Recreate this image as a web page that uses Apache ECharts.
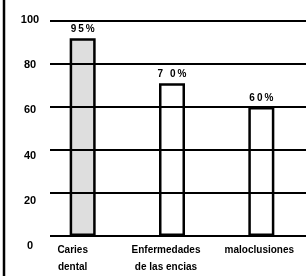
<!DOCTYPE html>
<html>
<head>
<meta charset="utf-8">
<script src="https://cdn.jsdelivr.net/npm/echarts@6/dist/echarts.min.js"></script>
<style>
  html, body { margin: 0; padding: 0; background: #fff; }
  #chart { width: 306px; height: 276px; }
</style>
</head>
<body>
<div id="chart"></div>
<script>
var categories = ['Caries\ndental', 'Enfermedades\nde las encias', 'maloclusiones'];
var values = [92, 71, 60];
var valueLabels = ['95%', '7 0%', '60%'];
var barColors = ['rgba(0,0,0,0.13)', 'rgba(255,255,255,0)', 'rgba(255,255,255,0)'];
var yTicks = [0, 20, 40, 60, 80, 100];

var myChart = echarts.init(document.getElementById('chart'));

var font = 'Liberation Sans';

option = {
    animation: false,
    backgroundColor: '#fff',
    grid: [
        // grid lines
        { left: 50, right: 0, top: 21, height: 215 },
        // tick labels and category labels
        { left: 26, right: 0, top: 20, height: 231 },
        // bars
        { left: 38, right: 0, top: 21, height: 215 }
    ],
    xAxis: [
        { gridIndex: 0, type: 'category', data: categories, show: false },
        {
            gridIndex: 1, type: 'category', data: categories,
            axisLine: { show: false }, axisTick: { show: false },
            axisLabel: {
                margin: -4, color: '#000', fontFamily: font, fontWeight: 'bold',
                fontSize: 10, lineHeight: 17, interval: 0
            }
        },
        { gridIndex: 2, type: 'category', data: categories, show: false }
    ],
    yAxis: [
        {
            gridIndex: 0, type: 'value', min: 0, max: 100, interval: 20, z: 5,
            axisLine: { show: false }, axisTick: { show: false }, axisLabel: { show: false },
            splitLine: { show: true, lineStyle: { color: '#000', width: 2 } }
        },
        {
            gridIndex: 1, type: 'value', min: yTicks[0], max: yTicks[yTicks.length - 1], interval: 20,
            axisLine: { show: false }, axisTick: { show: false }, splitLine: { show: false },
            axisLabel: {
                margin: -4, align: 'center', color: '#000', fontFamily: font,
                fontWeight: 'bold', fontSize: 11
            }
        },
        {
            gridIndex: 2, type: 'value', min: 0, max: 100, show: false,
            splitLine: { show: false }
        }
    ],
    graphic: [
        {
            type: 'line',
            shape: { x1: 4, y1: 0, x2: 4, y2: 276 },
            style: { stroke: '#000', lineWidth: 2.5 }
        }
    ],
    series: [
        {
            type: 'bar',
            xAxisIndex: 2,
            yAxisIndex: 2,
            barWidth: 26,
            z: 2,
            data: values.map(function (v, i) {
                return {
                    value: v,
                    itemStyle: { color: barColors[i] }
                };
            }),
            itemStyle: { borderColor: '#000', borderWidth: 2.5 },
            label: {
                show: true,
                position: 'top',
                distance: 4,
                color: '#000',
                fontFamily: font,
                fontWeight: 'bold',
                fontSize: 10,
                formatter: function (p) {
                    return valueLabels[p.dataIndex].split('').join('\u2009');
                }
            }
        }
    ]
};

myChart.setOption(option);
</script>
</body>
</html>
